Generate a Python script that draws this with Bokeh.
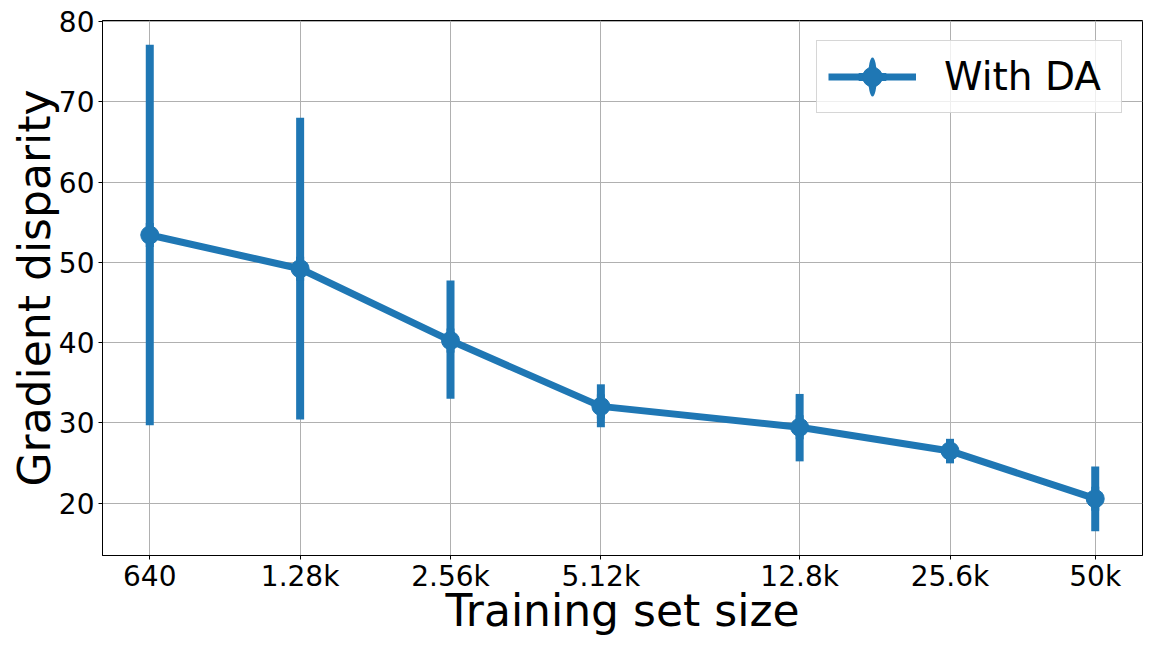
import math
from bokeh.plotting import figure
from bokeh.models import FixedTicker, Range1d, Legend, LegendItem, ColumnDataSource
from bokeh.embed import file_html
from bokeh.resources import INLINE

# ---- data ----
sizes = [640, 1280, 2560, 5120, 12800, 25600, 50000]
size_labels = ["640", "1.28k", "2.56k", "5.12k", "12.8k", "25.6k", "50k"]
disparity = [53.4, 49.2, 40.25, 32.05, 29.45, 26.5, 20.55]
err_upper = [77.1, 68.0, 47.75, 34.8, 33.6, 28.0, 24.55]
err_lower = [29.7, 30.4, 33.0, 29.45, 25.2, 24.95, 16.5]
y_ticks = [20, 30, 40, 50, 60, 70, 80]
series_name = "With DA"

BLUE = "#1f77b4"
FONT = "DejaVu Sans"

src = ColumnDataSource(dict(x=sizes, y=disparity, lo=err_lower, hi=err_upper))

# log-axis margins like matplotlib (5% of log span)
span = math.log10(max(sizes)) - math.log10(min(sizes))
pad = 0.05 * span
x_start = 10 ** (math.log10(min(sizes)) - pad)
x_end = 10 ** (math.log10(max(sizes)) + pad)
ylo = min(err_lower)
yhi = max(err_upper)
ypad = 0.05 * (yhi - ylo)

p = figure(width=1152, height=648, x_axis_type="log",
           x_range=Range1d(x_start, x_end), y_range=Range1d(ylo - ypad, yhi + ypad),
           output_backend="svg", toolbar_location=None,
           min_border_left=102, min_border_right=10, min_border_top=20, min_border_bottom=93)

p.background_fill_color = "white"
p.border_fill_color = "white"
p.outline_line_color = "black"
p.outline_line_width = 1

# axes
p.xaxis.ticker = FixedTicker(ticks=sizes, minor_ticks=[])
p.xaxis.major_label_overrides = {s: l for s, l in zip(sizes, size_labels)}
p.yaxis.ticker = FixedTicker(ticks=y_ticks, minor_ticks=[])
for ax in (p.xaxis, p.yaxis):
    ax.major_label_text_font = FONT
    ax.major_label_text_font_size = "28px"
    ax.major_label_text_color = "black"
    ax.axis_label_text_font = FONT
    ax.axis_label_text_font_size = "44px"
    ax.axis_label_text_font_style = "normal"
    ax.axis_label_text_color = "black"
    ax.axis_line_color = "black"
    ax.major_tick_line_color = "black"
    ax.major_tick_out = 4
    ax.major_tick_in = 0
    ax.minor_tick_out = 0
    ax.minor_tick_in = 0
p.yaxis.major_label_standoff = 4
p.yaxis.axis_label_standoff = -4
p.xaxis.major_label_standoff = 0
p.xaxis.axis_label_standoff = -11
p.xaxis.axis_label = "Training set size"
p.yaxis.axis_label = "Gradient disparity"

p.grid.grid_line_color = "#b0b0b0"
p.grid.grid_line_width = 1
p.xgrid.minor_grid_line_color = None

# error bars
p.segment(x0="x", y0="lo", x1="x", y1="hi", source=src,
          line_color=BLUE, line_width=8, line_cap="butt")
line_r = p.line("x", "y", source=src, line_color=BLUE, line_width=7)
dash_r = p.scatter("x", "y", source=src, marker="dash", angle=math.pi / 2,
                   size=16, line_color=BLUE, line_width=8, line_cap="square")
ell_r = p.ellipse("x", "y", source=src, width=4, height=18, width_units="screen",
                  height_units="screen", fill_color=BLUE, line_color=None)
circ_r = p.scatter("x", "y", source=src, marker="circle", size=18,
                   fill_color=BLUE, line_color=BLUE)

legend = Legend(items=[LegendItem(label=series_name, renderers=[line_r, dash_r, ell_r, circ_r])],
                location="top_right", margin=20, padding=11,
                glyph_width=88, glyph_height=49, label_standoff=28, label_width=166,
                label_text_font=FONT, label_text_font_size="39px",
                label_text_color="black",
                border_line_color="#cccccc", border_line_alpha=0.8,
                background_fill_alpha=0.8, spacing=0)
p.add_layout(legend)

open("out.html", "w").write(file_html(p, INLINE))
